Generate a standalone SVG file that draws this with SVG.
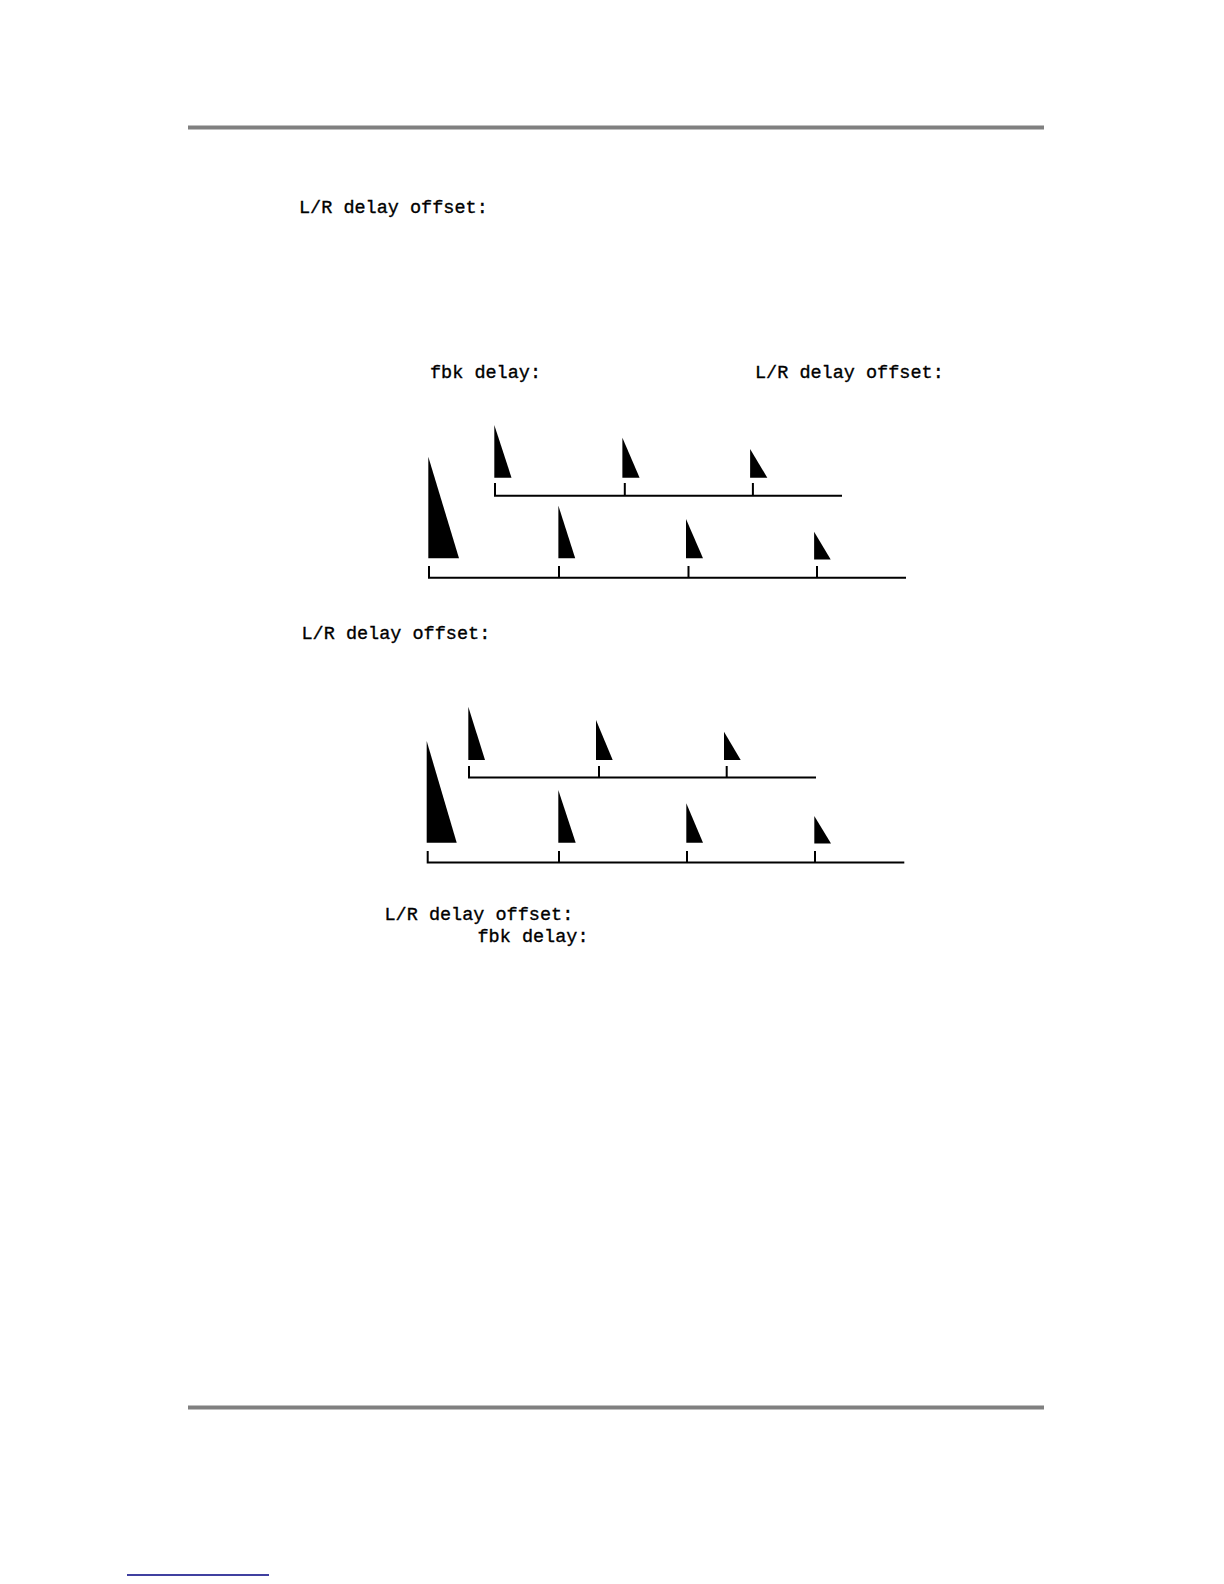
<svg xmlns="http://www.w3.org/2000/svg" width="1224" height="1584" viewBox="0 0 1224 1584">
<style>
.lbl{font-family:"Liberation Mono","DejaVu Sans Mono",monospace;font-size:18.5px;fill:#000;stroke:#000;stroke-width:0.35}
.axis{stroke:#000;stroke-width:2;fill:none}
.tri{fill:#000}
.rule{stroke:#808080;stroke-width:4}
</style>
<rect width="1224" height="1584" fill="#fff"/>
<line class="rule" x1="188" y1="127.5" x2="1044" y2="127.5"/>
<line class="rule" x1="188" y1="1407.5" x2="1044" y2="1407.5"/>
<line x1="127" y1="1575" x2="269" y2="1575" stroke="#000080" stroke-width="1.5"/>

<g id="label-top">
<text class="lbl" x="299" y="212.5">L/R delay offset:</text>
</g>

<g id="figure1">
<text class="lbl" x="430" y="377.5">fbk delay:</text>
<text class="lbl" x="755" y="377.5">L/R delay offset:</text>
<g id="fig1-right">
<polygon class="tri" points="494.3,425 494.3,477.7 511.5,477.7"/>
<polygon class="tri" points="622.4,437.7 622.4,477.7 639.6,477.7"/>
<polygon class="tri" points="750.1,449 750.1,477.7 767.3,477.7"/>
</g>
<g id="fig1-left">
<polygon class="tri" points="428.3,456.7 428.3,558.3 459,558.3"/>
<polygon class="tri" points="558.4,505.7 558.4,558.3 575.2,558.3"/>
<polygon class="tri" points="686,519 686,558.3 703,558.3"/>
<polygon class="tri" points="814.1,531.7 814.1,559.5 830.7,559.5"/>
</g>
</g>

<g id="figure2">
<text class="lbl" x="301.5" y="639">L/R delay offset:</text>
<g id="fig2-right">
<polygon class="tri" points="468.3,706.7 468.3,760 485,760"/>
<polygon class="tri" points="596,720 596,760 612.7,760"/>
<polygon class="tri" points="724,731.7 724,760 740.7,760"/>
</g>
<g id="fig2-left">
<polygon class="tri" points="426.7,741 426.7,842.7 456.7,842.7"/>
<polygon class="tri" points="558.3,790 558.3,842.7 575.7,842.7"/>
<polygon class="tri" points="686.3,803.3 686.3,842.7 703,842.7"/>
<polygon class="tri" points="814.3,816 814.3,843.5 831,843.5"/>
</g>
</g>

<g id="label-bottom">
<text class="lbl" x="384.5" y="920">L/R delay offset:</text>
<text class="lbl" x="477.5" y="941.5">fbk delay:</text>
</g>

<g id="connectors">
<path class="axis" d="M495,483 V495.7 H842 M624.8,483 V495.7 M752.9,483 V495.7"/>
<path class="axis" d="M429,566 V577.7 H906 M559,566 V577.7 M688.5,566 V577.7 M817,566 V577.7"/>
<path class="axis" d="M469,766 V777.5 H816 M599,766 V777.5 M726.7,766 V777.5"/>
<path class="axis" d="M427.7,851 V862.5 H904.3 M559,851 V862.5 M687,851 V862.5 M815,851 V862.5"/>
</g>
</svg>
